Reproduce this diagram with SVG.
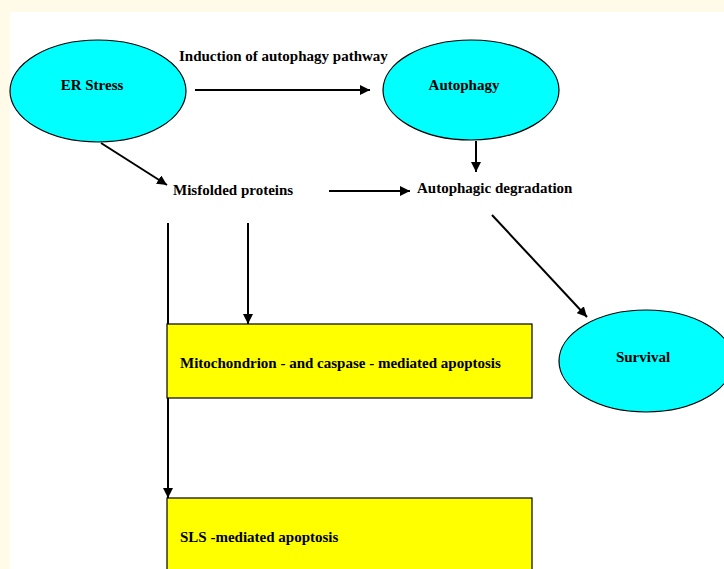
<svg xmlns="http://www.w3.org/2000/svg" width="724" height="569" viewBox="0 0 724 569">
<style>
.bg{fill:#FFFBE8}
.ell{fill:#00FFFF;stroke:#000;stroke-width:1.2}
.box{fill:#FFFF00;stroke:#000;stroke-width:1.2}
.t{font-family:"Liberation Serif","Times New Roman",serif;font-weight:bold;font-size:15px;fill:#000}
.c{stroke:#000;stroke-width:2;fill:none}
</style>
<defs>
<marker id="ah" viewBox="0 0 10 10" refX="10" refY="5" markerWidth="5" markerHeight="5" orient="auto" markerUnits="strokeWidth">
<path d="M0,0 L10,5 L0,10 z" fill="#000"/>
</marker>
</defs>
<rect class="bg" x="0" y="0" width="724" height="569"/>
<rect x="10" y="12" width="714" height="557" fill="#FFFFFF"/>
<g id="connectors">
<line class="c" x1="195" y1="90" x2="370" y2="90" marker-end="url(#ah)"/>
<line class="c" x1="101" y1="143" x2="167" y2="185" marker-end="url(#ah)"/>
<line class="c" x1="476" y1="141" x2="476" y2="172" marker-end="url(#ah)"/>
<line class="c" x1="329" y1="191" x2="410" y2="191" marker-end="url(#ah)"/>
<line class="c" x1="492" y1="215" x2="587" y2="317" marker-end="url(#ah)"/>
<line class="c" x1="248" y1="223" x2="248" y2="324" marker-end="url(#ah)"/>
<line class="c" x1="168" y1="223" x2="168" y2="498" marker-end="url(#ah)"/>
<text class="t" x="179" y="61">Induction of autophagy pathway</text>
</g>
<g id="er-stress">
<ellipse class="ell" cx="98" cy="91" rx="88" ry="51"/>
<text class="t" x="92" y="90" text-anchor="middle">ER Stress</text>
</g>
<g id="autophagy">
<ellipse class="ell" cx="471" cy="90" rx="88" ry="50"/>
<text class="t" x="464" y="90" text-anchor="middle">Autophagy</text>
</g>
<g id="misfolded">
<text class="t" x="173" y="195">Misfolded proteins</text>
</g>
<g id="degradation">
<text class="t" x="417" y="193">Autophagic degradation</text>
</g>
<g id="survival">
<ellipse class="ell" cx="646" cy="361" rx="87" ry="51"/>
<text class="t" x="643" y="362" text-anchor="middle">Survival</text>
</g>
<g id="mito-apoptosis">
<rect class="box" x="167" y="324" width="365" height="74"/>
<text class="t" x="180" y="368">Mitochondrion - and caspase - mediated apoptosis</text>
</g>
<g id="sls-apoptosis">
<rect class="box" x="167" y="498" width="365" height="80"/>
<text class="t" x="180" y="542">SLS -mediated apoptosis</text>
</g>
</svg>
